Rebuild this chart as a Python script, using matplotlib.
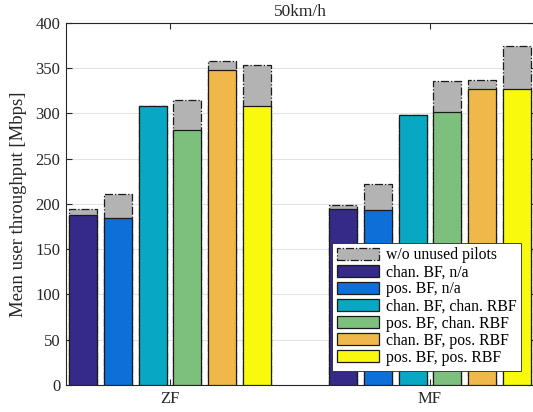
import matplotlib
matplotlib.use("Agg")
import matplotlib.pyplot as plt
import numpy as np
from matplotlib.patches import Patch

plt.rcParams['font.family'] = ['Liberation Serif', 'DejaVu Serif']

groups = ["ZF", "MF"]
series = ["chan. BF, n/a", "pos. BF, n/a", "chan. BF, chan. RBF",
          "pos. BF, chan. RBF", "chan. BF, pos. RBF", "pos. BF, pos. RBF"]
# throughput with unused pilots (colored bars)
with_pilots = {
    "ZF": [188, 184, 308, 282, 348, 308],
    "MF": [194, 193, 298, 301, 327, 327],
}
# throughput without unused pilots (gray bars)
without_pilots = {
    "ZF": [194, 211, 308, 315, 358, 354],
    "MF": [199, 222, 298, 336, 337, 375],
}
colors = ["#352a87", "#0f6fd9", "#08a8c4", "#7dbf7c", "#f0b84a", "#f9f90e"]
gray = "#b3b3b3"
yticks = [0, 50, 100, 150, 200, 250, 300, 350, 400]

fig = plt.figure(figsize=(5.33, 4.12), dpi=100)
ax = fig.add_axes([0.1238, 0.0655, 0.878, 0.879])

spacing = 0.134
width = 0.108
n = len(series)
for gi, g in enumerate(groups):
    center = gi + 1
    for si in range(n):
        x = center + (si - (n - 1) / 2) * spacing
        ax.bar(x, without_pilots[g][si], width=width, color=gray,
               edgecolor="#1a1a1a", linewidth=0.9, linestyle="-.", zorder=2)
        ax.bar(x, with_pilots[g][si], width=width, color=colors[si],
               edgecolor="#1a1a1a", linewidth=0.9, zorder=3)

ax.set_xlim(0.6, 2.4)
ax.set_ylim(0, 400)
ax.set_yticks(yticks)
ax.set_xticks([1, 2])
ax.set_xticklabels(groups)
ax.yaxis.grid(True, color="#e3e3e3", linewidth=0.8, zorder=0)
ax.set_axisbelow(True)
ax.tick_params(direction="in", top=True, right=True, colors="#262626",
               labelsize=12, length=4, width=0.8, pad=4)
for s in ax.spines.values():
    s.set_color("#262626")
    s.set_linewidth(0.8)
ax.set_ylabel("Mean user throughput [Mbps]", fontsize=13.5, color="#262626", labelpad=6)
ax.set_title("50km/h", fontsize=12.5, color="#262626", pad=5)

handles = [Patch(facecolor=gray, edgecolor="#1a1a1a", linestyle="-.", linewidth=0.9)]
handles += [Patch(facecolor=c, edgecolor="#1a1a1a", linewidth=0.9) for c in colors]
labels = ["w/o unused pilots"] + series
leg = ax.legend(handles, labels, loc="lower right", bbox_to_anchor=(0.972, 0.04),
                borderaxespad=0, fontsize=11.3, handlelength=2.7, handleheight=0.8,
                labelspacing=0.07, handletextpad=0.4, borderpad=0.3,
                fancybox=False, framealpha=1, edgecolor="#262626")
leg.get_frame().set_linewidth(0.6)
leg.set_zorder(5)

fig.savefig("out.png", dpi=100)
